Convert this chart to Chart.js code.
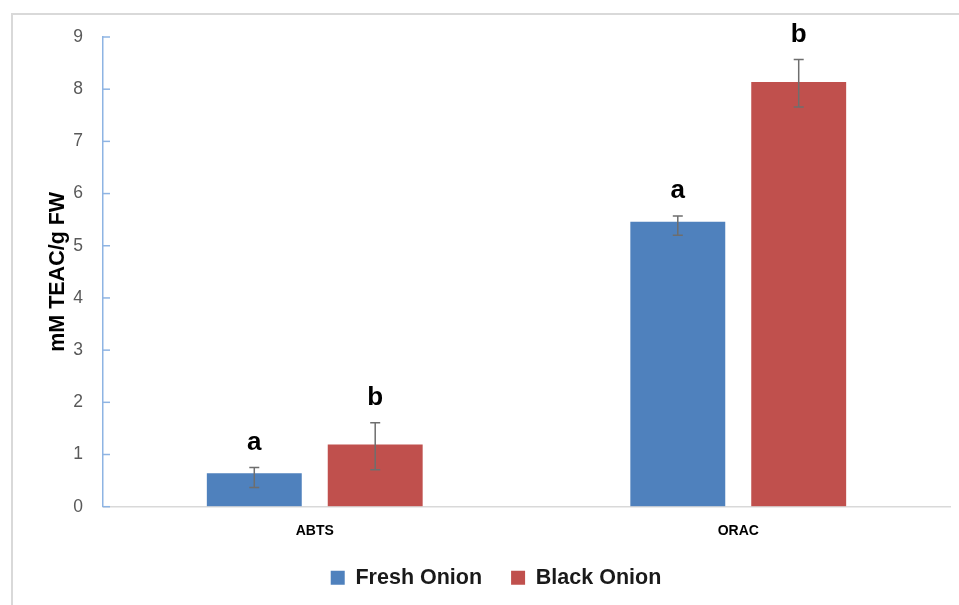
<!DOCTYPE html>
<html>
<head>
<meta charset="utf-8">
<script src="https://cdn.jsdelivr.net/npm/chart.js@4/dist/chart.umd.min.js"></script>
<style>
  html, body { margin: 0; padding: 0; background: #ffffff; overflow: hidden; }
  #frame {
    position: absolute; left: 11px; top: 13px; width: 980px; height: 620px;
    border-top: 2px solid #d9d9d9; border-left: 2px solid #d9d9d9;
  }
  #wrap { position: absolute; left: 0; top: 0; width: 959px; height: 605px; }
</style>
</head>
<body>
<div id="frame"></div>
<div id="wrap"><canvas id="chart" width="959" height="605"></canvas></div>
<script>
// Antioxidant capacity (mM TEAC/g FW) by assay
const categories = ['ABTS', 'ORAC'];
const freshOnion = [0.64, 5.46];
const blackOnion = [1.19, 8.14];
// error bar extents above / below each mean
const freshErrUp = [0.11, 0.11];
const freshErrDown = [0.27, 0.26];
const blackErrUp = [0.42, 0.43];
const blackErrDown = [0.48, 0.48];
// significance letters
const freshLetters = ['a', 'a'];
const blackLetters = ['b', 'b'];
const yTicks = [0, 1, 2, 3, 4, 5, 6, 7, 8, 9];

const FONT = "'Liberation Sans', Arial, sans-serif";

// error bars, inside tick marks and significance letters
const annotate = {
  id: 'annotate',
  afterDatasetsDraw(chart) {
    const ctx = chart.ctx;
    const y = chart.scales.y;
    ctx.save();
    chart.data.datasets.forEach((ds, di) => {
      const meta = chart.getDatasetMeta(di);
      meta.data.forEach((bar, i) => {
        const v = ds.data[i];
        const top = y.getPixelForValue(v + ds.errUp[i]);
        const bot = y.getPixelForValue(v - ds.errDown[i]);
        ctx.strokeStyle = '#6e6e6e';
        ctx.lineWidth = 1.5;
        ctx.beginPath();
        ctx.moveTo(bar.x, top); ctx.lineTo(bar.x, bot);
        ctx.moveTo(bar.x - 5, top); ctx.lineTo(bar.x + 5, top);
        ctx.moveTo(bar.x - 5, bot); ctx.lineTo(bar.x + 5, bot);
        ctx.stroke();
        ctx.fillStyle = '#000000';
        ctx.font = 'bold 26px ' + FONT;
        ctx.textAlign = 'center';
        ctx.textBaseline = 'middle';
        ctx.fillText(ds.letters[i], bar.x, top - 25);
      });
    });
    // tick marks pointing into the plot
    ctx.strokeStyle = '#8eb4e3';
    ctx.lineWidth = 1.5;
    y.ticks.forEach((t) => {
      const py = y.getPixelForValue(t.value);
      ctx.beginPath();
      ctx.moveTo(y.right, py);
      ctx.lineTo(y.right + 7, py);
      ctx.stroke();
    });
    ctx.restore();
  }
};

new Chart(document.getElementById('chart'), {
  type: 'bar',
  data: {
    labels: categories,
    datasets: [
      { label: 'Fresh Onion', data: freshOnion, errUp: freshErrUp, errDown: freshErrDown,
        letters: freshLetters, backgroundColor: '#4f81bd', borderWidth: 0 },
      { label: 'Black Onion', data: blackOnion, errUp: blackErrUp, errDown: blackErrDown,
        letters: blackLetters, backgroundColor: '#c0504d', borderWidth: 0 }
    ]
  },
  options: {
    responsive: false,
    animation: false,
    events: [],
    layout: { padding: { left: 42, right: 9, top: 37, bottom: 6.5 } },
    datasets: { bar: { categoryPercentage: 0.571, barPercentage: 0.785 } },
    plugins: {
      tooltip: { enabled: false },
      legend: {
        position: 'bottom',
        labels: {
          boxWidth: 14, boxHeight: 14, padding: 29,
          color: '#1a1a1a',
          font: { family: FONT, size: 21.5, weight: 'bold' }
        }
      }
    },
    scales: {
      x: {
        afterFit(scale) { scale.height -= 18.5; },
        grid: { display: true, drawOnChartArea: false, drawTicks: false },
        border: { display: true, color: '#d9d9d9', width: 1.5 },
        ticks: { padding: 16.5, color: '#000000', font: { family: FONT, size: 14, weight: 'bold' } }
      },
      y: {
        min: 0, max: 9,
        afterFit(scale) { scale.width = 61; },
        afterBuildTicks(scale) { scale.ticks = yTicks.map(v => ({ value: v })); },
        grid: { display: true, drawOnChartArea: false, drawTicks: false },
        border: { display: true, color: '#8eb4e3', width: 1.5 },
        ticks: { padding: 20, color: '#595959', font: { family: FONT, size: 17.5 } },
        title: {
          display: true, text: 'mM TEAC/g FW', color: '#000000',
          padding: { top: 3, bottom: 0 },
          font: { family: FONT, size: 21.5, weight: 'bold' }
        }
      }
    }
  },
  plugins: [annotate]
});
</script>
</body>
</html>
